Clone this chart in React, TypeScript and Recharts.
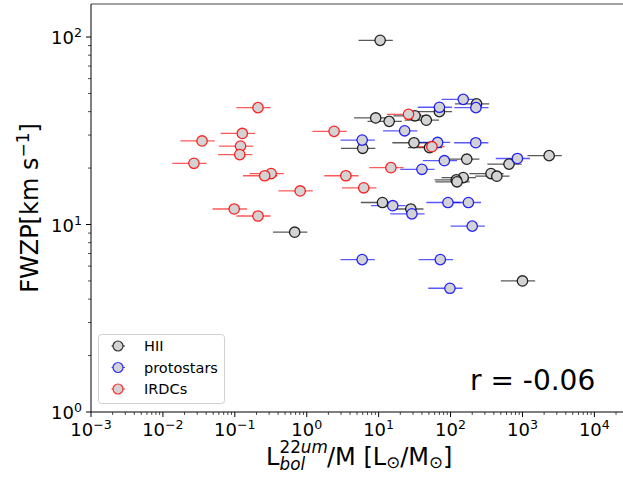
import React from 'react'
import {ScatterChart, Scatter, XAxis, YAxis, ErrorBar, ReferenceLine, Legend} from 'recharts'

// L_bol/M (x) and FWZP (y) per source class
const hiiX = [10.5, 230, 70, 32, 46, 9.1, 14, 6.0, 31, 51, 2350, 650, 168, 365, 440, 150, 120, 123, 11.3, 28, 0.68, 1000]
const hiiY = [96, 44, 40, 38, 36, 37, 35.5, 25.5, 27.3, 25.7, 23.3, 21, 22.3, 18.7, 18.1, 17.8, 17.3, 16.9, 13.1, 12.1, 9.1, 5.0]

const protoX = [150, 225, 70, 23, 5.9, 66, 224, 82, 850, 40, 15.7, 29, 92, 177, 200, 5.9, 72, 98]
const protoY = [46.5, 42, 42.2, 31.6, 28.2, 27.4, 27.3, 21.9, 22.5, 19.7, 12.6, 11.4, 13.1, 13.1, 9.8, 6.5, 6.5, 4.57]

const irdcX = [0.21, 2.4, 0.127, 0.035, 0.12, 0.117, 0.027, 0.32, 0.26, 3.5, 0.81, 6.2, 0.098, 0.21, 26, 55, 14.8]
const irdcY = [42, 31.4, 30.6, 27.9, 26.2, 23.6, 21.2, 18.7, 18.2, 18.2, 15.1, 15.7, 12.1, 11.1, 38.7, 26, 20.1]

// relative x error
const X_ERR = 0.5

const xMajor = [1e-3, 1e-2, 1e-1, 1, 10, 100, 1000, 10000]
const xExp = ['−3', '−2', '−1', '0', '1', '2', '3', '4']
const yMajor = [1, 10, 100]
const yExp = ['0', '1', '2']

const X_MAX = 25000
const Y_MAX = 150

const withMinor = (majors: number[], max: number) =>
  majors.flatMap(m => [m, 2 * m, 3 * m, 4 * m, 5 * m, 6 * m, 7 * m, 8 * m, 9 * m]).filter(v => v <= max)

const xTicks = withMinor(xMajor, X_MAX)
const yTicks = withMinor(yMajor, Y_MAX)

const toPoints = (xs: number[], ys: number[]) => xs.map((x, i) => ({x, y: ys[i], ex: x * X_ERR}))

const series = [
  {name: 'HII', color: '#000000', data: toPoints(hiiX, hiiY)},
  {name: 'protostars', color: '#0000ff', data: toPoints(protoX, protoY)},
  {name: 'IRDCs', color: '#ff0000', data: toPoints(irdcX, irdcY)},
]

const FONT = 'DejaVu Sans'
const TICK_FS = 18

const XTick = (props: any) => {
  const {x, y, payload} = props
  const i = xMajor.indexOf(payload.value)
  const major = i >= 0
  return (
    <g>
      <line x1={x} x2={x} y1={y} y2={y + (major ? 5 : 3)} stroke='#000' strokeWidth={major ? 1 : 0.7}/>
      {major && (
        <text x={x} y={y + 24} textAnchor='middle' fontSize={TICK_FS} fontFamily={FONT} fill='#000'>
          10<tspan dy={-7} fontSize={TICK_FS * 0.7}>{xExp[i]}</tspan>
        </text>
      )}
    </g>
  )
}

const YTick = (props: any) => {
  const {x, y, payload} = props
  const i = yMajor.indexOf(payload.value)
  const major = i >= 0
  return (
    <g>
      <line x1={x} x2={x - (major ? 5 : 3)} y1={y} y2={y} stroke='#000' strokeWidth={major ? 1 : 0.7}/>
      {major && (
        <text x={x - 9} y={y + 7} textAnchor='end' fontSize={TICK_FS} fontFamily={FONT} fill='#000'>
          10<tspan dy={-7} fontSize={TICK_FS * 0.7}>{yExp[i]}</tspan>
        </text>
      )}
    </g>
  )
}

const XLabel = (props: any) => {
  const vb = props.viewBox
  const cx = vb.x + vb.width / 2
  const y0 = vb.y
  return (
    <g fontFamily={FONT} fill='#000'>
      <text x={cx - 91} y={y0 + 53} fontSize={24}>L</text>
      <text x={cx - 77.5} y={y0 + 41} fontSize={16.8}>22<tspan fontStyle='italic'>um</tspan></text>
      <text x={cx - 77.5} y={y0 + 58} fontSize={16.8} fontStyle='italic'>bol</text>
      <text x={cx - 30} y={y0 + 53} fontSize={24}>
        /M [L<tspan fontSize={16.8} dy={3}>⊙</tspan><tspan dy={-3}>/M</tspan><tspan fontSize={16.8} dy={3}>⊙</tspan><tspan dy={-3}>]</tspan>
      </text>
    </g>
  )
}

const YLabel = (props: any) => {
  const vb = props.viewBox
  const x = vb.x + 38
  const y = vb.y + vb.height / 2
  return (
    <text x={x} y={y} transform={`rotate(-90 ${x} ${y})`} textAnchor='middle' fontSize={24} fontFamily={FONT} fill='#000'>
      FWZP[km s<tspan dy={-9} fontSize={17}>−1</tspan><tspan dy={9}>]</tspan>
    </text>
  )
}

const LegendBox = () => (
  <svg width={127} height={70} style={{display: 'block'}}>
    <rect x={0.5} y={0.5} width={126} height={69} rx={3} fill='#fff' fillOpacity={0.8} stroke='#d0d0d0'/>
    {series.map((s, i) => {
      const cy = 12 + i * 21.5
      return (
        <g key={s.name}>
          <line x1={13.5} x2={27} y1={cy} y2={cy} stroke={s.color} strokeWidth={1.2} strokeOpacity={0.7}/>
          <circle cx={20} cy={cy} r={5} fill='#d3d3d3' stroke={s.color} strokeOpacity={0.8} strokeWidth={1.2}/>
          <text x={46} y={cy + 5} fontSize={14.5} fontFamily={FONT} fill='#000'>{s.name}</text>
        </g>
      )
    })}
  </svg>
)

const dot = (color: string) => (props: any) => (
  <circle cx={props.cx} cy={props.cy} r={5.2} fill='#d3d3d3' stroke={color} strokeOpacity={0.85} strokeWidth={1.3}/>
)

export default function App() {
  return (
    <div style={{position: 'absolute', left: 0, top: 0}}>
      <ScatterChart width={623} height={478} margin={{top: 4, right: 0, bottom: 0, left: 0}}>
        <XAxis type='number' dataKey='x' scale='log' domain={[0.001, X_MAX]} allowDataOverflow
               ticks={xTicks} interval={0} tick={<XTick/>} tickLine={false} tickSize={0} tickMargin={0}
               height={66} axisLine={{stroke: '#000', strokeWidth: 1}} label={<XLabel/>}/>
        <YAxis type='number' dataKey='y' scale='log' domain={[1, Y_MAX]} allowDataOverflow
               ticks={yTicks} interval={0} tick={<YTick/>} tickLine={false} tickSize={0} tickMargin={0}
               width={91} axisLine={{stroke: '#000', strokeWidth: 1}} label={<YLabel/>}/>
        <ReferenceLine y={Y_MAX} stroke='#444' strokeWidth={1}/>
        {series.map(s => (
          <Scatter key={s.name} name={s.name} data={s.data} shape={dot(s.color)} isAnimationActive={false}>
            <ErrorBar dataKey='ex' direction='x' width={0} stroke={s.color} strokeWidth={1.3} strokeOpacity={0.65}/>
          </Scatter>
        ))}
        <Legend layout='vertical' align='center' verticalAlign='middle'
                wrapperStyle={{left: 98, top: 334, width: 127, height: 70}}
                content={() => <LegendBox/>}/>
        <text x={470} y={390} fontSize={28} fontFamily={FONT} fill='#000'>r = -0.06</text>
      </ScatterChart>
    </div>
  )
}
